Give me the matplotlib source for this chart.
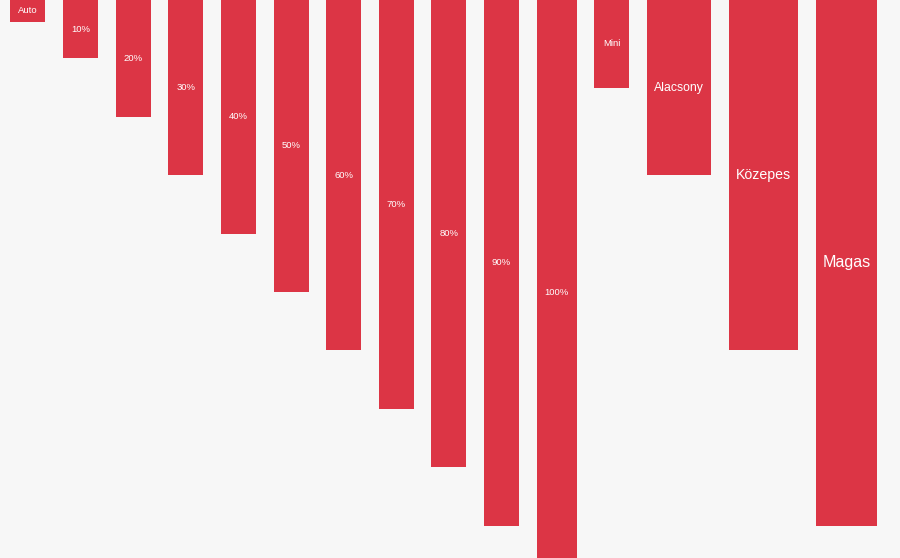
import matplotlib
matplotlib.use("Agg")
import matplotlib.pyplot as plt
import numpy as np

# ---- data ----
labels = ["Auto", "10%", "20%", "30%", "40%", "50%", "60%", "70%", "80%", "90%", "100%",
          "Mini", "Alacsony", "Közepes", "Magas"]
heights = [3.7, 10, 20, 30, 40, 50, 60, 70, 80, 90, 100, 15, 30, 60, 90]

# ---- layout / style ----
bar_widths = [35.3, 35, 35.3, 35, 35, 35, 35, 35, 35, 35, 40, 35, 64.6, 69.3, 61.5]
label_sizes = [6.8] * 11 + [6.8, 8.8, 10.2, 11.6]
gap = 17.6
left_margin = 10
px_per_unit = 5.84
W, H = 900, 558

color = "#dc3545"
bg = "#f7f7f7"

fig = plt.figure(figsize=(W / 100, H / 100), dpi=100, facecolor=bg)
ax = fig.add_axes([0, 0, 1, 1], facecolor=bg)

lefts = []
x = left_margin
for w in bar_widths:
    lefts.append(x)
    x += w + gap
lefts = np.array(lefts)
widths = np.array(bar_widths)

ax.bar(lefts, heights, width=widths, align="edge", bottom=0, color=color,
       edgecolor="none", linewidth=0)

for lx, w, h, lab, fs in zip(lefts, widths, heights, labels, label_sizes):
    ax.text(lx + w / 2, h / 2, lab, ha="center", va="center", color="white",
            fontsize=fs, family=["Liberation Sans", "DejaVu Sans"])

ax.set_xlim(0, W)
ax.set_ylim(H / px_per_unit, 0)
ax.axis("off")

fig.savefig("out.png", dpi=100, facecolor=bg)
